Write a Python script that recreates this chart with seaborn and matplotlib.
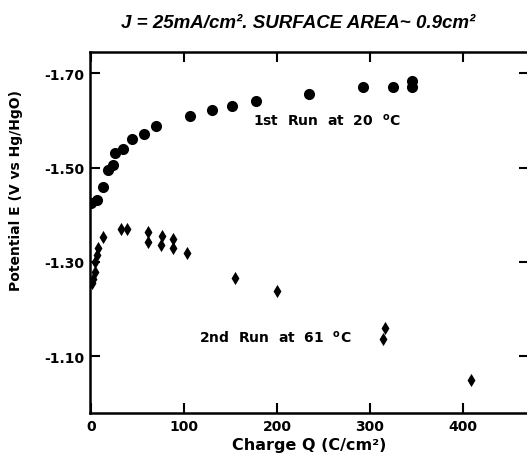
import numpy as np
import pandas as pd
import seaborn as sns
import matplotlib.pyplot as plt

# Charge Q (C/cm2) and potential E (V vs Hg/HgO)
q_run1 = [0, 6.8, 12.5, 18.6, 23.3, 25.8, 34, 44.4, 57.3, 69.5, 106.5, 129.7,
          152, 177, 234.8, 292.8, 324.4, 345.5, 345.5]
e_run1 = [-1.425, -1.432, -1.459, -1.496, -1.506, -1.530, -1.540, -1.561, -1.572,
          -1.588, -1.609, -1.622, -1.630, -1.641, -1.655, -1.671, -1.671, -1.684, -1.670]

q_run2 = [0.7, 2.5, 4.3, 4.3, 6.1, 7.9, 13.3, 31.9, 38.3, 60.9, 60.9, 75.9, 75.3,
          88.5, 88.5, 102.9, 154.5, 200, 316, 313.6, 409]
e_run2 = [-1.255, -1.265, -1.279, -1.300, -1.315, -1.329, -1.354, -1.370, -1.370,
          -1.364, -1.343, -1.355, -1.336, -1.349, -1.329, -1.320, -1.267, -1.238,
          -1.161, -1.137, -1.050]

x_ticks = [0, 100, 200, 300, 400]
y_ticks = [-1.70, -1.50, -1.30, -1.10]

df = pd.concat([
    pd.DataFrame({'Q': q_run1, 'E': e_run1, 'run': '1st'}),
    pd.DataFrame({'Q': q_run2, 'E': e_run2, 'run': '2nd'}),
])

sns.set_style('ticks', {'axes.edgecolor': 'black', 'text.color': 'black',
                        'xtick.color': 'black', 'ytick.color': 'black',
                        'axes.labelcolor': 'black'})
plt.rcParams['font.family'] = ['DejaVu Sans']
plt.rcParams['axes.unicode_minus'] = False

fig = plt.figure(figsize=(5.27, 4.56), dpi=100)
ax = fig.add_axes([90 / 527, 1 - 414 / 456, 439 / 527, 361 / 456])

sns.scatterplot(data=df[df.run == '1st'], x='Q', y='E', marker='o', s=64,
                color='black', edgecolor='black', linewidth=0, ax=ax, legend=False)
sns.scatterplot(data=df[df.run == '2nd'], x='Q', y='E', marker='d', s=45,
                color='black', edgecolor='black', linewidth=0, ax=ax, legend=False)

ax.set_xlim(-1, 471)
ax.set_ylim(-0.98, -1.745)
ax.set_xticks(x_ticks)
ax.set_yticks(y_ticks)
ax.set_yticklabels([f'{v:.2f}' for v in y_ticks])
ax.tick_params(direction='in', length=7, width=1.5, top=True, right=True,
               labelsize=10, pad=4)
for lab in ax.get_xticklabels() + ax.get_yticklabels():
    lab.set_fontweight('bold')
for sp in ax.spines.values():
    sp.set_linewidth(1.8)

ax.set_xlabel('Charge Q (C/cm²)', fontsize=11.5, fontweight='bold', labelpad=3)
ax.set_ylabel('Potential E (V vs Hg/HgO)', fontsize=10, fontweight='bold')
ax.yaxis.set_label_coords(-0.152, 0.62)

ax.text(174, -1.602, '1st  Run  at  20  $^{\\mathregular{o}}$C', fontsize=10,
        fontweight='bold', va='center', ha='left')
ax.text(116.5, -1.142, '2nd  Run  at  61  $^{\\mathregular{o}}$C', fontsize=10,
        fontweight='bold', va='center', ha='left')

fig.text(298 / 527, 1 - 23 / 456, 'J = 25mA/cm². SURFACE AREA~ 0.9cm²',
         family=['Liberation Sans', 'DejaVu Sans'], fontsize=13.5,
         fontweight='bold', fontstyle='italic', ha='center', va='center')

fig.savefig('out.png', dpi=100)
